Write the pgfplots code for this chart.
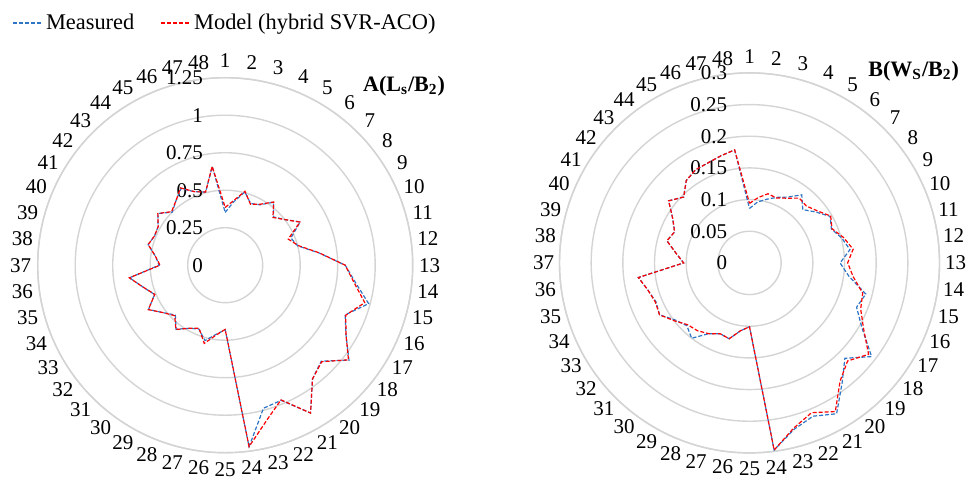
\documentclass[border=0pt]{standalone}
\usepackage{fontspec}
\setmainfont{Liberation Serif}
\usepackage{pgfplots}
\usepackage{pgfplotstable}
\usepgfplotslibrary{polar}
\pgfplotsset{compat=1.18}
\definecolor{measblue}{HTML}{2E75C6}
\definecolor{modred}{HTML}{FF0000}
\definecolor{gridgray}{HTML}{D4D4D4}

\pgfplotstableread{
k  Am     Ap     Bm      Bp
1  0.352  0.385  0.086   0.094
2  0.425  0.435  0.097   0.104
3  0.505  0.510  0.104   0.113
4  0.445  0.440  0.112   0.111
5  0.465  0.470  0.120   0.118
6  0.530  0.531  0.1355  0.129
7  0.455  0.450  0.119   0.127
8  0.500  0.500  0.132   0.135
9  0.577  0.575  0.147   0.148
10 0.474  0.455  0.140   0.141
11 0.500  0.505  0.151   0.154
12 0.630  0.632  0.160   0.165
13 0.800  0.800  0.143   0.155
14 0.875  0.865  0.158   0.165
15 0.990  0.963  0.190   0.185
16 0.865  0.870  0.183   0.190
17 0.930  0.930  0.205   0.208
18 1.040  1.036  0.243   0.237
19 0.905  0.910  0.213   0.219
20 0.956  0.956  0.240   0.235
21 1.138  1.138  0.275   0.271
22 0.975  0.972  0.262   0.256
23 0.987  1.070  0.272   0.270
24 1.220  1.220  0.298   0.298
25 0.430  0.428  0.1008  0.1008
26 0.465  0.470  0.108   0.108
27 0.520  0.540  0.124   0.124
28 0.460  0.455  0.121   0.121
29 0.486  0.486  0.129   0.129
30 0.538  0.540  0.150   0.135
31 0.470  0.476  0.140   0.138
32 0.520  0.520  0.148   0.150
33 0.590  0.592  0.164   0.164
34 0.510  0.508  0.160   0.161
35 0.566  0.566  0.166   0.166
36 0.643  0.645  0.177   0.177
37 0.440  0.435  0.104   0.104
38 0.470  0.470  0.117   0.117
39 0.532  0.532  0.135   0.135
40 0.510  0.510  0.128   0.128
41 0.516  0.516  0.140   0.140
42 0.566  0.566  0.161   0.161
43 0.500  0.505  0.147   0.147
44 0.540  0.540  0.164   0.164
45 0.590  0.595  0.170   0.170
46 0.530  0.530  0.171   0.171
47 0.505  0.505  0.175   0.175
48 0.663  0.665  0.180   0.180
49 0.352  0.385  0.086   0.094
}\radardata

\tikzset{
  meas/.style={draw=measblue, line width=0.6pt, dash pattern=on 2pt off 1pt},
  mod/.style={draw=modred, line width=0.6pt, dash pattern=on 2pt off 1pt},
}

\pgfplotsset{
  radar/.style={
    scale only axis,
    xmin=-270, xmax=90,
    ymin=0,
    xtick={-270,-262.5,...,82.5},
    xticklabels={1,48,47,46,45,44,43,42,41,40,39,38,37,36,35,34,33,32,31,30,29,28,27,26,25,24,23,22,21,20,19,18,17,16,15,14,13,12,11,10,9,8,7,6,5,4,3,2},
    xmajorgrids=false, xminorgrids=false,
    ymajorgrids=true,
    grid style={gridgray, line width=0.7pt},
    separate axis lines,
    x axis line style={gridgray, line width=0.7pt},
    y axis line style={draw=none},
    major tick length=0pt,
    xtick style={draw=none}, ytick style={draw=none},
    xticklabel style={font=\fontsize{10.5}{12}\selectfont, inner sep=0pt, anchor=center,
      xshift={#1*cos(\tick)}, yshift={#1*sin(\tick)}},
    yticklabel style={font=\fontsize{10.5}{12}\selectfont, anchor=east, inner sep=0pt, xshift=-11pt,
      /pgf/number format/fixed, /pgf/number format/precision=2},
    scaled y ticks=false,
    /pgf/number format/assume math mode=true,
    no markers,
    title style={font=\bfseries\fontsize{11}{13}\selectfont, anchor=center},
  },
}

\begin{document}
\begin{tikzpicture}
\useasboundingbox (0,0) rectangle (484pt,-241pt);
\begin{polaraxis}[radar=8.5pt,
  at={(112.6pt,-132.6pt)}, anchor=center,
  width=187.5pt, height=187.5pt,
  ymax=1.25, ytick={0,0.25,0.5,0.75,1,1.25},
  title={A(L\textsubscript{s}/B\textsubscript{2})},
  title style={at={(0.977,0.90)}},
  legend style={draw=none, fill=none, at={(-0.085,1.145)}, anchor=west,
    font=\fontsize{11.2}{13}\selectfont, legend columns=2,
    /tikz/every even column/.append style={column sep=11pt}},
  legend image code/.code={\draw[#1, line width=0.9pt] (0pt,0pt) -- (14pt,0pt);},
]
\addplot[meas] table[x expr={90-(\thisrow{k}-1)*7.5}, y=Am] {\radardata};
\addlegendentry{Measured}
\addplot[mod] table[x expr={90-(\thisrow{k}-1)*7.5}, y=Ap] {\radardata};
\addlegendentry{Model (hybrid SVR-ACO)}
\end{polaraxis}

\begin{polaraxis}[radar=8pt,
  at={(374.75pt,-131.45pt)}, anchor=center,
  width=190pt, height=190pt,
  ymax=0.3, ytick={0,0.05,0.1,0.15,0.2,0.25,0.3},
  title={B(W\textsubscript{S}/B\textsubscript{2})},
  title style={at={(0.932,0.929)}},
]
\addplot[meas] table[x expr={90-(\thisrow{k}-1)*7.5}, y=Bm] {\radardata};
\addplot[mod] table[x expr={90-(\thisrow{k}-1)*7.5}, y=Bp] {\radardata};
\end{polaraxis}
\end{tikzpicture}
\end{document}
